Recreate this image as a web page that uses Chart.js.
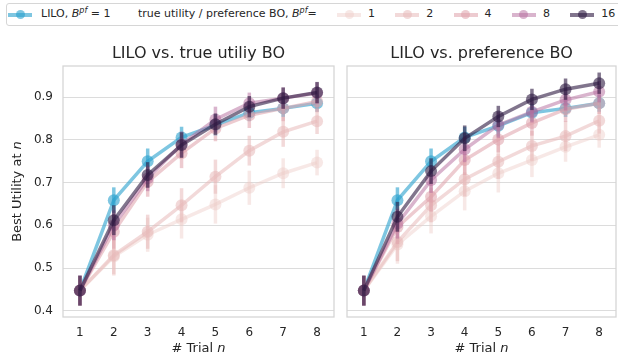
<!DOCTYPE html>
<html>
<head>
<meta charset="utf-8">
<script src="https://cdn.jsdelivr.net/npm/chart.js@4.4.0/dist/chart.umd.min.js"></script>
<style>
  body { margin: 0; width: 618px; height: 362px; overflow: hidden; background: #fff;
         position: relative; font-family: "DejaVu Sans", sans-serif; color: #262626; }
  #box { position: absolute; left: 6px; top: 3px; width: 630px; height: 23px;
         border: 1px solid #d6d6d6; border-radius: 3px; box-sizing: border-box; }
  .txt { position: absolute; top: 4px; height: 20px; line-height: 20px; font-size: 11px; white-space: nowrap; }
  .txt sup { font-size: 8px; line-height: 0; vertical-align: 4px; }
  .ln { position: absolute; top: 13px; width: 24px; height: 3.5px; }
  .dot { position: absolute; top: 10px; width: 9px; height: 9px; border-radius: 50%; }
  canvas { position: absolute; top: 30px; }
  #left { left: 0; }
  #right { left: 340px; }
</style>
</head>
<body>
<div id="box"></div>
<div id="legend"></div>
<canvas id="left" width="340" height="332"></canvas>
<canvas id="right" width="282" height="332"></canvas>
<script>
// data
const trials = [1, 2, 3, 4, 5, 6, 7, 8];
const yTicks = [0.4, 0.5, 0.6, 0.7, 0.8, 0.9];
const bpfLabels = ["1", "2", "4", "8", "16"];

// left panel: LILO vs. true utility BO
const leftLilo = [0.447, 0.659, 0.750, 0.806, 0.835, 0.864, 0.874, 0.886];
const leftB1   = [0.447, 0.527, 0.578, 0.614, 0.649, 0.688, 0.722, 0.747];
const leftB2   = [0.447, 0.530, 0.585, 0.647, 0.714, 0.775, 0.819, 0.844];
const leftB4   = [0.447, 0.585, 0.702, 0.769, 0.827, 0.858, 0.874, 0.890];
const leftB8   = [0.447, 0.600, 0.710, 0.790, 0.848, 0.886, 0.898, 0.910];
const leftB16  = [0.447, 0.612, 0.718, 0.788, 0.837, 0.878, 0.898, 0.911];

// right panel: LILO vs. preference BO
const rightLilo = [0.447, 0.659, 0.750, 0.806, 0.833, 0.864, 0.874, 0.886];
const rightB1   = [0.447, 0.555, 0.621, 0.680, 0.722, 0.753, 0.784, 0.812];
const rightB2   = [0.447, 0.561, 0.647, 0.708, 0.749, 0.786, 0.809, 0.845];
const rightB4   = [0.447, 0.596, 0.667, 0.753, 0.801, 0.840, 0.872, 0.886];
const rightB8   = [0.447, 0.604, 0.706, 0.778, 0.835, 0.866, 0.894, 0.913];
const rightB16  = [0.447, 0.620, 0.727, 0.804, 0.855, 0.895, 0.919, 0.933];

// half-widths of the error bars
const errLilo = [0.035, 0.030, 0.030, 0.025, 0.025, 0.020, 0.020, 0.020];
const errB1   = [0.035, 0.045, 0.040, 0.045, 0.045, 0.040, 0.035, 0.030];
const errB2   = [0.035, 0.045, 0.040, 0.040, 0.040, 0.035, 0.035, 0.030];
const errB4   = [0.035, 0.040, 0.035, 0.035, 0.030, 0.030, 0.030, 0.025];
const errB8   = [0.035, 0.035, 0.030, 0.030, 0.030, 0.025, 0.025, 0.025];
const errB16  = [0.035, 0.035, 0.030, 0.030, 0.025, 0.025, 0.025, 0.025];

const liloColor = "rgba(40,160,205,0.6)";
const bpfColors = ["rgba(237,205,200,0.45)", "rgba(232,185,185,0.55)", "rgba(222,160,170,0.55)",
                   "rgba(180,105,155,0.5)", "rgba(45,25,65,0.6)"];
const textColor = "#262626";
const FONT = '"DejaVu Sans", sans-serif';

// legend (html)
const legend = document.getElementById("legend");
function addMarker(cx, color) {
  legend.insertAdjacentHTML("beforeend",
    `<div class="ln" style="left:${cx - 12}px;background:${color}"></div>` +
    `<div class="dot" style="left:${cx - 4.5}px;background:${color}"></div>`);
}
function addText(x, html) {
  legend.insertAdjacentHTML("beforeend", `<div class="txt" style="left:${x}px">${html}</div>`);
}
addMarker(20, liloColor);
addText(41, 'LILO, <i>B</i><sup><i>pf</i></sup> = 1');
addText(138, 'true utility / preference BO, <i>B</i><sup><i>pf</i></sup>=');
bpfLabels.forEach((lab, i) => {
  const cx = 349 + i * 58.3;
  addMarker(cx, bpfColors[i]);
  addText(cx + 19, lab);
});

// plugins
const frame = {
  id: "frame",
  beforeDatasetsDraw(chart) {
    const { ctx, chartArea: a } = chart;
    ctx.save();
    ctx.strokeStyle = "#d4d4d4";
    ctx.lineWidth = 1.25;
    ctx.strokeRect(a.left, a.top, a.width, a.height);
    ctx.restore();
  }
};

const errorBars = {
  id: "errorBars",
  afterDatasetDraw(chart, args) {
    const ds = chart.data.datasets[args.index];
    if (!ds.err) return;
    const { ctx, scales: { x, y } } = chart;
    ctx.save();
    ctx.strokeStyle = ds.borderColor;
    ctx.lineWidth = 3.5;
    ds.data.forEach((p, i) => {
      const px = x.getPixelForValue(p.x);
      ctx.beginPath();
      ctx.moveTo(px, y.getPixelForValue(p.y - ds.err[i]));
      ctx.lineTo(px, y.getPixelForValue(p.y + ds.err[i]));
      ctx.stroke();
    });
    ctx.restore();
  }
};

// axis titles with an italic n
const axisText = {
  id: "axisText",
  afterDraw(chart, args, opts) {
    const { ctx, chartArea: a } = chart;
    const draw = (parts, cx, cy, rot) => {
      ctx.save();
      ctx.translate(cx, cy);
      ctx.rotate(rot);
      ctx.fillStyle = textColor;
      ctx.textBaseline = "middle";
      ctx.textAlign = "left";
      ctx.font = "13px " + FONT;
      const w0 = ctx.measureText(parts[0]).width;
      ctx.font = "italic 13px " + FONT;
      const w1 = ctx.measureText(parts[1]).width;
      const x0 = -(w0 + w1) / 2;
      ctx.font = "13px " + FONT;
      ctx.fillText(parts[0], x0, 0);
      ctx.font = "italic 13px " + FONT;
      ctx.fillText(parts[1], x0 + w0, 0);
      ctx.restore();
    };
    draw(opts.x, (a.left + a.right) / 2, opts.xTitleY, 0);
    if (opts.y) draw(opts.y, opts.yTitleX, (a.top + a.bottom) / 2, -Math.PI / 2);
  }
};

function series(vals, err, color, order) {
  return {
    data: vals.map((v, i) => ({ x: trials[i], y: v })),
    err: err,
    borderColor: color,
    backgroundColor: color,
    borderWidth: 3.5,
    pointRadius: 6,
    pointBorderWidth: 0,
    pointHoverRadius: 6,
    tension: 0,
    order: order
  };
}

function makeChart(id, title, lilo, bs, showY, padRight) {
  const errs = [errB1, errB2, errB4, errB8, errB16];
  const datasets = [series(lilo, errLilo, liloColor, 6)];
  bs.forEach((vals, i) => datasets.push(series(vals, errs[i], bpfColors[i], 5 - i)));
  return new Chart(document.getElementById(id), {
    type: "line",
    data: { datasets },
    options: {
      responsive: false,
      animation: false,
      layout: { padding: { left: 0, right: padRight, top: 0, bottom: 0 } },
      plugins: {
        legend: { display: false },
        tooltip: { enabled: false },
        title: {
          display: true, text: title, color: textColor, fullSize: false,
          font: { family: FONT, size: 16, weight: "normal" },
          padding: { top: 14, bottom: 2.8 }
        },
        axisText: {
          x: ["# Trial ", "n"], xTitleY: 319,
          y: showY ? ["Best Utility at ", "n"] : null, yTitleX: 18
        }
      },
      scales: {
        x: {
          type: "linear", min: 0.5, max: 8.5,
          grid: { display: false, drawTicks: false },
          border: { display: false },
          afterBuildTicks: s => { s.ticks = trials.map(v => ({ value: v })); },
          ticks: { color: textColor, font: { family: FONT, size: 12 }, padding: 9 },
          afterFit: s => { s.height = 45; }
        },
        y: {
          type: "linear", min: 0.3852, max: 0.9733,
          grid: { color: "#dcdcdc", lineWidth: 1, drawTicks: false },
          border: { display: false },
          afterBuildTicks: s => { s.ticks = yTicks.map(v => ({ value: v })); },
          ticks: {
            display: showY, color: textColor, font: { family: FONT, size: 12 }, padding: 10,
            callback: v => v.toFixed(1)
          },
          afterFit: s => { s.width = showY ? 63 : 7; }
        }
      }
    },
    plugins: [frame, errorBars, axisText]
  });
}

makeChart("left", "LILO vs. true utiliy BO", leftLilo,
  [leftB1, leftB2, leftB4, leftB8, leftB16], true, 6);
makeChart("right", "LILO vs. preference BO", rightLilo,
  [rightB1, rightB2, rightB4, rightB8, rightB16], false, 2);
</script>
</body>
</html>
